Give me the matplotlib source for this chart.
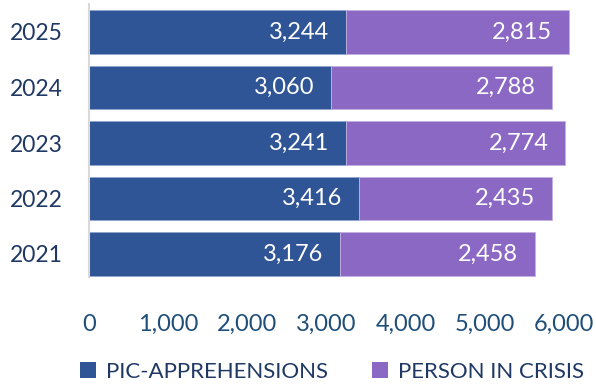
import matplotlib
matplotlib.use("Agg")
import matplotlib.pyplot as plt
from matplotlib.patches import Patch
from matplotlib.ticker import FuncFormatter

plt.rcParams['font.family'] = ['Lato', 'DejaVu Sans']

years = ["2021", "2022", "2023", "2024", "2025"]
pic_apprehensions = [3176, 3416, 3241, 3060, 3244]
person_in_crisis = [2458, 2435, 2774, 2788, 2815]
x_ticks = [0, 1000, 2000, 3000, 4000, 5000, 6000]
series_names = ["PIC-APPREHENSIONS", "PERSON IN CRISIS"]

blue = "#2F5597"
purple = "#8B68C4"
year_color = "#1F3864"
tick_color = "#1F4E79"

x_max = 6100
px_per_unit = (564 - 89) / 6000
fig = plt.figure(figsize=(5.96, 3.85), dpi=100)
ax = fig.add_axes([89 / 596, 1 - 281.75 / 385, x_max * px_per_unit / 596,
                   (281.75 - 4.25) / 385])

ypos = list(range(len(years)))
ax.barh(ypos, pic_apprehensions, height=0.79, color=blue,
        edgecolor="#8FA6D0", linewidth=0.6)
ax.barh(ypos, person_in_crisis, left=pic_apprehensions, height=0.79,
        color=purple, edgecolor="#C2B0E2", linewidth=0.6)

for i in ypos:
    ends = [pic_apprehensions[i], pic_apprehensions[i] + person_in_crisis[i]]
    vals = [pic_apprehensions[i], person_in_crisis[i]]
    for end, v in zip(ends, vals):
        ax.annotate(f"{v:,}", xy=(end, i), xytext=(-12, 0),
                    textcoords="offset points", ha="right", va="center",
                    color="white", fontsize=17, annotation_clip=False)

ax.set_xlim(0, x_max)
ax.set_ylim(-0.5, 4.5)
ax.set_xticks(x_ticks)
ax.xaxis.set_major_formatter(FuncFormatter(lambda v, p: f"{int(v):,}"))
ax.set_yticks(ypos)
ax.set_yticklabels(years)
ax.tick_params(axis="x", length=0, pad=23, labelsize=17, labelcolor=tick_color)
ax.tick_params(axis="y", length=0, pad=19, labelsize=16.5, labelcolor=year_color)

for s in ["top", "right", "bottom"]:
    ax.spines[s].set_visible(False)
ax.spines["left"].set_color("#D9D9D9")
ax.spines["left"].set_linewidth(1.5)
ax.spines["left"].set_bounds(-0.42, 4.5)

handles = [Patch(facecolor=blue), Patch(facecolor=purple)]
fig.legend(handles, series_names, loc="center", bbox_to_anchor=(332 / 596, 1 - 372 / 385),
           ncol=2, frameon=False, fontsize=16, handlelength=0.7, handleheight=0.7,
           handletextpad=0.45, columnspacing=2.0, labelcolor=year_color)

fig.savefig("out.png", dpi=100)
